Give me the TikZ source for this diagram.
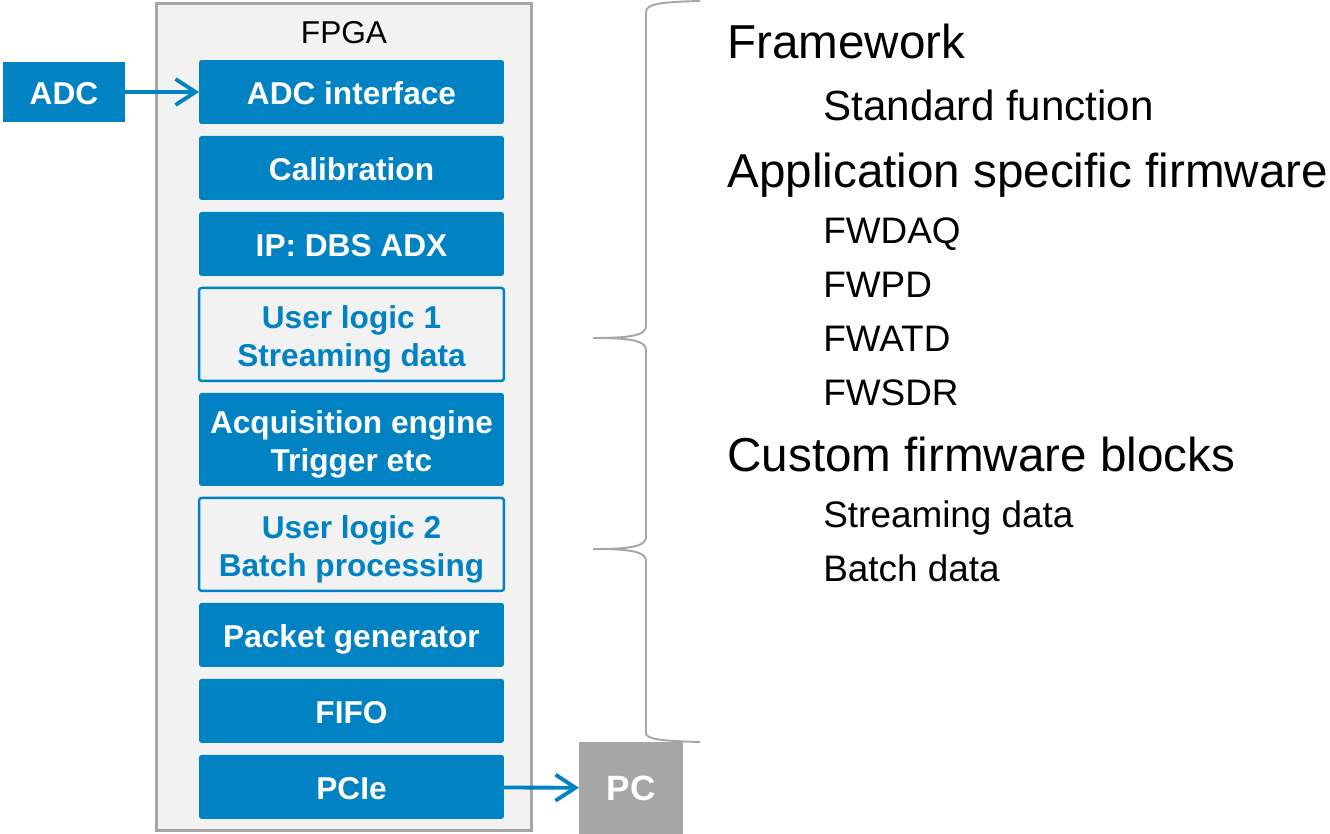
\documentclass[tikz,border=0pt]{standalone}
\usepackage{fontspec}
\setmainfont{Liberation Sans}
\usepackage{tikz}
\usetikzlibrary{positioning, arrows.meta, calc}
\definecolor{fwblue}{RGB}{0,130,195}
\definecolor{fwgray}{RGB}{166,166,166}
\definecolor{fwback}{RGB}{242,242,242}
\tikzstyle{block} = [rectangle, rounded corners=1.5pt, minimum width=6.1cm, minimum height=1.28cm, inner sep=0pt, outer sep=0pt, text centered, align=center, text height=14.5pt, text depth=0pt, fill=fwblue, text=white, font=\fontsize{18}{21.5}\selectfont\bfseries]
\tikzstyle{tallblock} = [block, minimum height=1.86cm, text height=36.4pt, text depth=0pt]
\tikzstyle{userblock} = [tallblock, fill=fwback, draw=fwblue, line width=1.4pt, text=fwblue]
\tikzstyle{arrow} = [line width=2.2pt, draw=fwblue, -{Straight Barb[length=0.4cm, width=0.52cm, line width=2.2pt]}]
\tikzstyle{heading} = [anchor=base west, inner sep=0pt, font=\fontsize{27.1}{31}\selectfont]
\tikzstyle{subitem} = [anchor=base west, inner sep=0pt, font=\fontsize{24}{28}\selectfont]
\tikzstyle{subsubitem} = [anchor=base west, inner sep=0pt, font=\fontsize{21}{25}\selectfont]
\begin{document}
\begin{tikzpicture}[x=0.02cm, y=-0.02cm, node distance=0.24cm]
        \useasboundingbox (0,0) rectangle (1330,834);
        % FPGA frame
        \node (fpga) [rectangle, draw=fwgray, fill=fwback, line width=1.7pt, minimum width=7.5cm, minimum height=16.56cm] at (344,417) {};
        \node (fpgalabel) [font=\fontsize{18}{21}\selectfont] at (344,33) {FPGA};

        % processing chain
        \node (adcif) [block] at (351.5,92) {ADC interface};
        \node (calib) [block, below=of adcif] {Calibration};
        \node (ipdbs) [block, below=of calib] {IP: DBS ADX};
        \node (user1) [userblock, below=of ipdbs] {User logic 1\\Streaming data};
        \node (acq) [tallblock, below=of user1] {Acquisition engine\\Trigger etc};
        \node (user2) [userblock, below=of acq] {User logic 2\\Batch processing};
        \node (packet) [block, below=of user2] {Packet generator};
        \node (fifo) [block, below=of packet] {FIFO};
        \node (pcie) [block, below=of fifo] {PCIe};

        % outside world
        \node (adc) [block, rounded corners=0pt, minimum width=2.44cm, minimum height=1.22cm] at (64,92) {ADC};
        \node (pc) [block, rounded corners=0pt, fill=fwgray, minimum width=2.08cm, minimum height=1.84cm, font=\fontsize{20}{24}\selectfont\bfseries] at (631,788) {PC};

        \draw [arrow] (adc) -- (adcif);
        \draw [arrow] (pcie) -- (pc);

        % brace
        \draw [fwgray, line width=1.1pt]
            (700,1) .. controls (660,2) and (646,4) .. (646,12) -- (646,326)
            .. controls (646,336) and (628,338) .. (593,338)
            (593,338) .. controls (628,338) and (646,340) .. (646,350) -- (646,537)
            .. controls (646,547) and (628,549) .. (593,549)
            (593,549) .. controls (628,549) and (646,551) .. (646,561) -- (646,733)
            .. controls (646,739) and (660,741) .. (700,742);

        % firmware list
        \node (framework) [heading] at (727,59) {Framework};
        \node (standard) [subitem] at (823,121) {Standard function};
        \node (appfw) [heading] at (727,188) {Application specific firmware};
        \node (fwdaq) [subsubitem] at (823,244) {FWDAQ};
        \node (fwpd) [subsubitem] at (823,298) {FWPD};
        \node (fwatd) [subsubitem] at (823,352) {FWATD};
        \node (fwsdr) [subsubitem] at (823,406) {FWSDR};
        \node (custom) [heading] at (727,472) {Custom firmware blocks};
        \node (streaming) [subsubitem] at (823,528) {Streaming data};
        \node (batch) [subsubitem] at (823,582) {Batch data};
\end{tikzpicture}
\end{document}
